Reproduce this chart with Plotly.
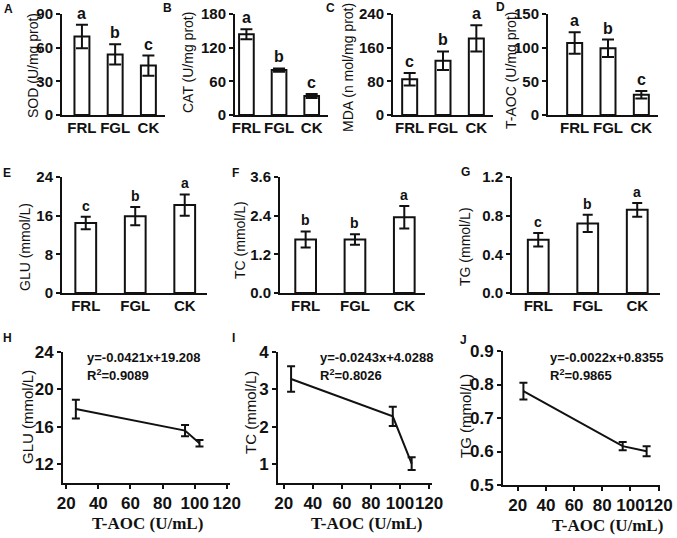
import plotly.graph_objects as go

W, H = 677, 538
groups = ["FRL", "FGL", "CK"]

# ---- data ----
sod = [70, 54, 44];        sod_err = [10.5, 9, 9];        sod_sig = ["a", "b", "c"]
cat = [144, 80, 34];       cat_err = [9, 3, 3.5];         cat_sig = ["a", "b", "c"]
mda = [85, 129, 182];      mda_err = [15, 22, 31];        mda_sig = ["c", "b", "a"]
taoc = [107, 99, 30];      taoc_err = [16, 13, 5.5];      taoc_sig = ["a", "b", "c"]
glu = [14.5, 15.9, 18.2];  glu_err = [1.3, 1.9, 2.2];     glu_sig = ["c", "b", "a"]
tc = [1.66, 1.66, 2.35];   tc_err = [0.25, 0.16, 0.35];   tc_sig = ["b", "b", "a"]
tg = [0.55, 0.72, 0.86];   tg_err = [0.07, 0.09, 0.07];   tg_sig = ["c", "b", "a"]

h_x = [26, 94, 103];       h_y = [17.9, 15.6, 14.25];     h_err = [1.0, 0.6, 0.35]
i_x = [25, 95, 108];       i_y = [3.28, 2.28, 1.02];      i_err = [0.34, 0.26, 0.17]
j_x = [24, 94.5, 111.5];   j_y = [0.78, 0.616, 0.601];    j_err = [0.025, 0.012, 0.015]

taoc_ticks = [20, 40, 60, 80, 100, 120]

h_eq = ["y=-0.0421x+19.208", "R<sup>2</sup>=0.9089"]
i_eq = ["y=-0.0243x+4.0288", "R<sup>2</sup>=0.8026"]
j_eq = ["y=-0.0022x+0.8355", "R<sup>2</sup>=0.9865"]

SANS = "Liberation Sans, Arial, sans-serif"
SERIF = "Liberation Serif, Times New Roman, serif"
INK = "#111111"

def fx(p):
    return p / W

def fy(p):
    return 1 - p / H

fig = go.Figure()
layout = dict(width=W, height=H, margin=dict(l=0, r=0, t=0, b=0, autoexpand=False),
              paper_bgcolor="white", plot_bgcolor="white", showlegend=False)
annotations = []

def add_ann(text, x, y, size, serif=False, angle=0, bold=True, xanchor="center", yanchor="middle"):
    annotations.append(dict(text=(f"<b>{text}</b>" if bold else text), x=fx(x), y=fy(y),
                            xref="paper", yref="paper", showarrow=False, textangle=angle,
                            xanchor=xanchor, yanchor=yanchor,
                            font=dict(family=SERIF if serif else SANS, size=size, color=INK)))

bar_panels = [
    (sod, sod_err, sod_sig, "SOD (U/mg prot)", "A"),
    (cat, cat_err, cat_sig, "CAT (U/mg prot)", "B"),
    (mda, mda_err, mda_sig, "MDA (n mol/mg prot)", "C"),
    (taoc, taoc_err, taoc_sig, "T-AOC (U/mg prot)", "D"),
    (glu, glu_err, glu_sig, "GLU (mmol/L)", "E"),
    (tc, tc_err, tc_sig, "TC (mmol/L)", "F"),
    (tg, tg_err, tg_sig, "TG (mmol/L)", "G"),
]
bar_geom = [
    # xl, xr, yt, yb, xrange, yrange, tickvals, fmt, barwidth, sigsize, cap
    (62, 165, 14, 115, [-0.6, 2.5], [0, 90], [0, 30, 60, 90], "", 0.45, 16, 6),
    (235, 328, 14, 115, [-0.35, 2.5], [0, 180], [0, 60, 120, 180], "", 0.45, 16, 6),
    (393, 493, 14, 115, [-0.5, 2.5], [0, 240], [0, 80, 160, 240], "", 0.45, 16, 6),
    (548, 658, 14, 115, [-0.8, 2.5], [0, 150], [0, 50, 100, 150], "", 0.45, 16, 6),
    (62, 207, 177, 293, [-0.48, 2.45], [0, 24], [0, 8, 16, 24], "", 0.42, 14, 5),
    (280, 425, 177, 293, [-0.52, 2.42], [0, 3.6], [0, 1.2, 2.4, 3.6], ".1f", 0.42, 14, 5),
    (512, 660, 177, 293, [-0.53, 2.46], [0, 1.2], [0, 0.4, 0.8, 1.2], ".1f", 0.42, 14, 5),
]
bar_titles_pos = [(33, 66), (188, 63), (348, 68), (511, 70), (25, 247), (240, 240), (465, 247)]
bar_label_pos = [(8, 9), (167, 8), (330, 8), (500, 7), (7, 173), (235, 173), (465, 172)]

axis_common = dict(showline=True, linecolor=INK, linewidth=2, showgrid=False, zeroline=False,
                   fixedrange=True, automargin=False)

for k, ((vals, errs, sigs, ytitle, lab), g) in enumerate(zip(bar_panels, bar_geom)):
    n = k + 1
    xl, xr, yt, yb, xrng, yrng, tv, fmt, bw, sigsize, cap = g
    xa = "x" if n == 1 else f"x{n}"
    ya = "y" if n == 1 else f"y{n}"
    fig.add_trace(go.Bar(x=groups, y=vals, width=bw, xaxis=xa, yaxis=ya,
                         marker=dict(color="white", line=dict(color=INK, width=2)),
                         error_y=dict(type="data", array=errs, color=INK, thickness=2, width=cap)))
    layout["xaxis" if n == 1 else f"xaxis{n}"] = dict(
        axis_common, domain=[fx(xl), fx(xr)], anchor=ya, type="category",
        categoryorder="array", categoryarray=groups, range=xrng, ticks="",
        ticklabelstandoff=-2,
        tickfont=dict(family=SANS, size=15, color=INK, weight="bold"))
    layout["yaxis" if n == 1 else f"yaxis{n}"] = dict(
        axis_common, domain=[fy(yb), fy(yt)], anchor=xa, range=yrng, tickvals=tv,
        tickformat=fmt, ticks="outside", ticklen=4, tickwidth=2, tickcolor=INK,
        tickfont=dict(family=SANS, size=15, color=INK, weight="bold"))
    for gname, v, e, s in zip(groups, vals, errs, sigs):
        annotations.append(dict(text=f"<b>{s}</b>", x=gname, y=v + e, xref=xa, yref=ya,
                                showarrow=False, yanchor="bottom", yshift=1,
                                font=dict(family=SANS, size=sigsize, color=INK)))
    tx, ty = bar_titles_pos[k]
    add_ann(ytitle, tx, ty, 14, angle=-90, bold=False)
    lx, ly = bar_label_pos[k]
    add_ann(lab, lx, ly, 12)

sc_panels = [
    (h_x, h_y, h_err, "GLU (mmol/L)", "H", h_eq),
    (i_x, i_y, i_err, "TC (mmol/L)", "I", i_eq),
    (j_x, j_y, j_err, "TG (mmol/L)", "J", j_eq),
]
sc_geom = [
    (63, 230, 352, 483, [18, 122], [10, 24], [12, 16, 20, 24], ""),
    (278, 432, 352, 483, [16, 122], [0.5, 4], [1, 2, 3, 4], ""),
    (503, 660, 351, 485, [9.5, 121], [0.5, 0.9], [0.5, 0.6, 0.7, 0.8, 0.9], ".1f"),
]
sc_title_pos = [(27, 417), (250, 413), (465, 416)]
sc_label_pos = [(7, 338), (233, 338), (463, 340)]
sc_eq_pos = [(85, 357), (318, 357), (548, 357)]
sc_xtitle_pos = [(147, 523), (367, 523), (607, 525)]

for k, ((xs, ys, es, ytitle, lab, eq), g) in enumerate(zip(sc_panels, sc_geom)):
    n = k + 8
    xl, xr, yt, yb, xrng, yrng, tv, fmt = g
    xa, ya = f"x{n}", f"y{n}"
    fig.add_trace(go.Scatter(x=xs, y=ys, mode="lines", xaxis=xa, yaxis=ya,
                             line=dict(color=INK, width=2),
                             error_y=dict(type="data", array=es, color=INK, thickness=2, width=4)))
    layout[f"xaxis{n}"] = dict(
        axis_common, domain=[fx(xl), fx(xr)], anchor=ya, range=xrng,
        tickvals=taoc_ticks, tickangle=0, ticks="outside", ticklen=4, tickwidth=2,
        tickcolor=INK, tickfont=dict(family=SANS, size=17, color=INK, weight="bold"))
    layout[f"yaxis{n}"] = dict(
        axis_common, domain=[fy(yb), fy(yt)], anchor=xa, range=yrng, tickvals=tv,
        tickformat=fmt, ticks="outside", ticklen=4, tickwidth=2, tickcolor=INK,
        tickfont=dict(family=SANS, size=17, color=INK, weight="bold"))
    tx, ty = sc_title_pos[k]
    add_ann(ytitle, tx, ty, 15, angle=-90, bold=False)
    lx, ly = sc_label_pos[k]
    add_ann(lab, lx, ly, 12)
    ex, ey = sc_eq_pos[k]
    add_ann(eq[0], ex, ey, 13, xanchor="left")
    add_ann(eq[1], ex, ey + 18, 13, xanchor="left")
    qx, qy = sc_xtitle_pos[k]
    add_ann("T-AOC (U/mL)", qx, qy, 17, serif=True)

layout["annotations"] = annotations
fig.update_layout(**layout)
fig.write_html("out.html", config={"displayModeBar": False},
               post_script="document.body.style.margin='0px';document.body.style.overflow='hidden';")
